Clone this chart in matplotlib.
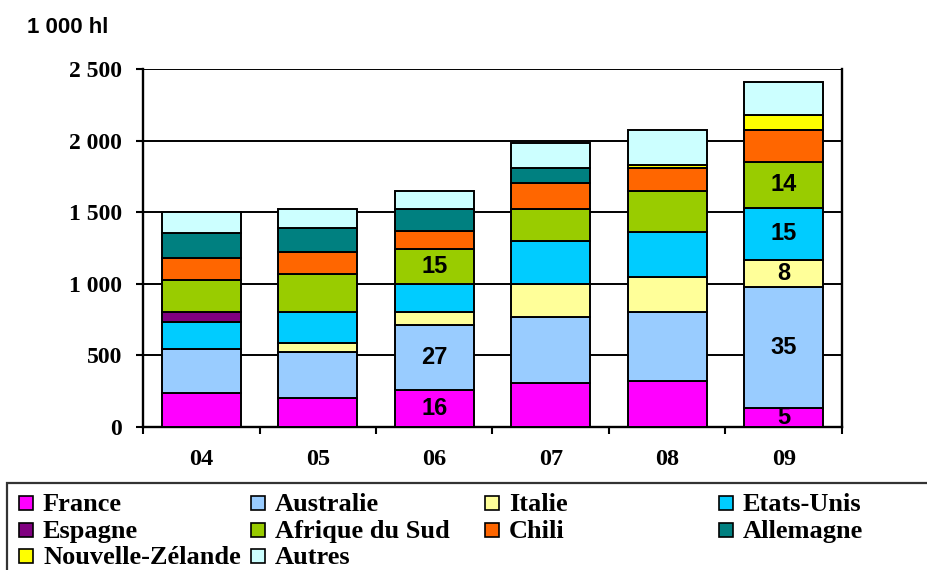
import matplotlib
matplotlib.use("Agg")
import matplotlib.pyplot as plt
from matplotlib.patches import Rectangle
import numpy as np

# Data (1 000 hl)
years = ["04", "05", "06", "07", "08", "09"]
france = [235, 205, 258, 305, 321, 131]
australie = [307, 321, 454, 465, 480, 849]
italie = [0, 58, 93, 226, 249, 186]
etats_unis = [189, 221, 191, 303, 310, 365]
espagne = [74, 0, 0, 0, 0, 0]
afrique_sud = [219, 261, 247, 221, 290, 322]
chili = [158, 158, 128, 186, 156, 221]
allemagne = [175, 163, 148, 105, 0, 0]
nouvelle_zelande = [0, 0, 0, 0, 21, 105]
autres = [146, 135, 130, 174, 247, 232]

# share labels (%) printed inside some segments
lbl_france = ["", "", "16", "", "", "5"]
lbl_australie = ["", "", "27", "", "", "35"]
lbl_italie = ["", "", "", "", "", "8"]
lbl_etats_unis = ["", "", "", "", "", "15"]
lbl_afrique = ["", "", "15", "", "", "14"]

names = ["France", "Australie", "Italie", "Etats-Unis", "Espagne",
         "Afrique du Sud", "Chili", "Allemagne", "Nouvelle-Zélande", "Autres"]
series = [france, australie, italie, etats_unis, espagne,
          afrique_sud, chili, allemagne, nouvelle_zelande, autres]
colors = ["#FF00FF", "#99CCFF", "#FFFF99", "#00CCFF", "#800080",
          "#99CC00", "#FF6600", "#008080", "#FFFF00", "#CCFFFF"]
labels = {"France": lbl_france, "Australie": lbl_australie, "Italie": lbl_italie,
          "Etats-Unis": lbl_etats_unis, "Afrique du Sud": lbl_afrique}

serif = "Liberation Serif"
sans = "Liberation Sans"

fig = plt.figure(figsize=(9.28, 5.70), dpi=100)
ax = fig.add_axes([143 / 928, 143 / 570, 699 / 928, 358 / 570])

x = np.arange(len(years))
bottom = np.zeros(len(years))
for name, vals, col in zip(names, series, colors):
    vals = np.array(vals, dtype=float)
    bars = ax.bar(x, vals, width=0.68, bottom=bottom, color=col,
                  edgecolor="black", linewidth=1.4, zorder=3)
    if name in labels:
        ax.bar_label(bars, labels=labels[name], label_type="center",
                     fontsize=17, fontweight="bold", family=sans, zorder=4)
    bottom += vals

ax.set_xlim(-0.5, len(years) - 0.5)
ax.set_ylim(0, 2500)
ax.set_yticks([0, 500, 1000, 1500, 2000, 2500])
ax.set_yticklabels(["0", "500", "1 000", "1 500", "2 000", "2 500"])
ax.set_xticks(x)
ax.set_xticklabels(years)
ax.set_xticks(np.arange(-0.5, len(years)), minor=True)

ax.yaxis.grid(True, color="black", linewidth=1.4, zorder=0)
ax.set_axisbelow(True)
for side in ["left", "bottom", "right"]:
    ax.spines[side].set_linewidth(1.7)
    ax.spines[side].set_color("black")
ax.spines["top"].set_visible(False)

ax.tick_params(axis="y", length=5, width=1.5, pad=10, labelsize=17)
ax.tick_params(axis="x", which="major", length=0, pad=16, labelsize=17.5)
ax.tick_params(axis="x", which="minor", length=5, width=1.5)
for lab in ax.get_xticklabels() + ax.get_yticklabels():
    lab.set_fontfamily(serif)
    lab.set_fontweight("bold")

fig.text(27 / 928, 1 - 33 / 570, "1 000 hl", family=sans, fontweight="bold",
         fontsize=16, va="baseline", ha="left")

# legend drawn as a fixed grid, like the original layout
frame = Rectangle((7 / 928, -0.05), 1.0, 0.05 + (570 - 483) / 570,
                  transform=fig.transFigure, fill=False, edgecolor="#333333",
                  linewidth=1.6, clip_on=False)
fig.patches.append(frame)

col_px = [19, 251, 485, 719]
row_px = [503, 530, 556]
for i, (name, col) in enumerate(zip(names, colors)):
    r, c = divmod(i, 4)
    mx, my = col_px[c], row_px[r]
    fig.patches.append(Rectangle((mx / 928, 1 - (my + 7) / 570), 14 / 928, 14 / 570,
                                 transform=fig.transFigure, facecolor=col,
                                 edgecolor="black", linewidth=1.2))
    fig.text((mx + 24) / 928, 1 - (my + 8) / 570, name, family=serif, fontweight="bold",
             fontsize=19, va="baseline", ha="left")

fig.savefig("out.png", dpi=100)
